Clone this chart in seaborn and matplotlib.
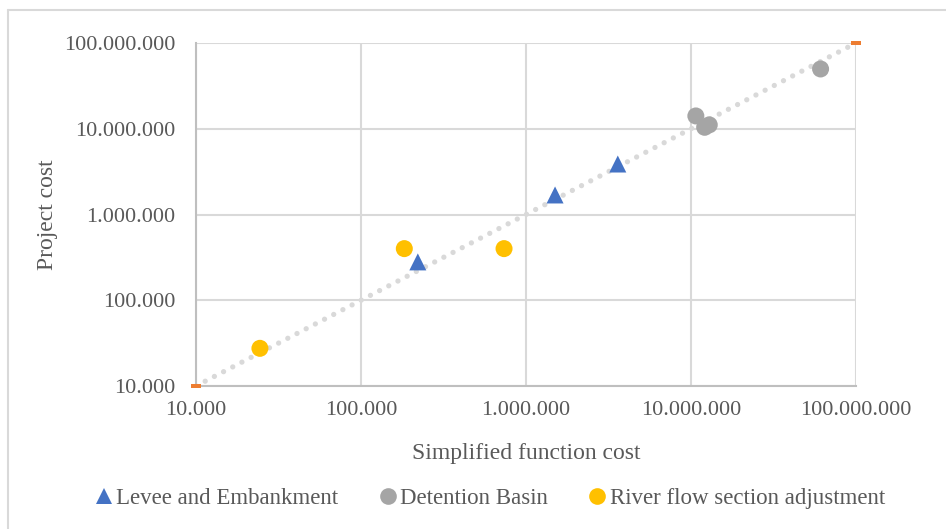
import numpy as np
import pandas as pd
import matplotlib
matplotlib.use("Agg")
import matplotlib.pyplot as plt
import seaborn as sns
from matplotlib.path import Path
from matplotlib.lines import Line2D

# Cost comparison per project type
levee_x = [221000, 1500000, 3600000]
levee_y = [280000, 1690000, 3880000]

basin_x = [10700000, 12100000, 12900000, 61000000]
basin_y = [14100000, 10400000, 11100000, 49800000]

river_x = [24400, 183000, 736000]
river_y = [27500, 400000, 400000]

categories = ["Levee and Embankment", "Detention Basin", "River flow section adjustment"]
colors = ["#4472C4", "#A5A5A5", "#FFC000"]
markers = ["^", "o", "o"]

# Reference line y = x across the full axis range
ref_x = [10000, 100000000]
ref_y = [10000, 100000000]

tick_values = [10000, 100000, 1000000, 10000000, 100000000]

df = pd.concat([
    pd.DataFrame({"x": levee_x, "y": levee_y, "type": categories[0]}),
    pd.DataFrame({"x": basin_x, "y": basin_y, "type": categories[1]}),
    pd.DataFrame({"x": river_x, "y": river_y, "type": categories[2]}),
], ignore_index=True)

sns.set_style("white")
plt.rcParams["font.family"] = ["Liberation Serif", "DejaVu Serif"]
text_color = "#595959"
grid_color = "#D9D9D9"

fig = plt.figure(figsize=(9.46, 5.29), dpi=100)
ax = fig.add_axes([196 / 946, 1 - 386 / 529, 660 / 946, 343 / 529])
ax.set_xscale("log")
ax.set_yscale("log")
ax.set_xlim(ref_x)
ax.set_ylim(ref_y)

ax.set_xticks(tick_values)
ax.set_yticks(tick_values)
ax.minorticks_off()
fmt = lambda v: f"{int(v):,}".replace(",", ".")
ax.set_xticklabels([fmt(v) for v in tick_values])
ax.set_yticklabels([fmt(v) for v in tick_values])
ax.tick_params(axis="both", length=0, labelsize=16, labelcolor=text_color)
ax.tick_params(axis="y", pad=15)
ax.tick_params(axis="x", pad=11)

ax.grid(True, color=grid_color, linewidth=1.5)
ax.set_axisbelow(True)
for side in ["top", "right"]:
    ax.spines[side].set_visible(False)
for side in ["left", "bottom"]:
    ax.spines[side].set_color("#BFBFBF")
    ax.spines[side].set_linewidth(1.5)

# Dotted y = x line
ax.plot(ref_x, ref_y, color=grid_color, linewidth=3.8,
        linestyle=(0, (0.01, 1.95)), dash_capstyle="round", zorder=2)

# Small orange end caps of the reference series
cap = Path([(-1, -0.5), (1, -0.5), (1, 0.5), (-1, 0.5), (-1, -0.5)],
           [Path.MOVETO, Path.LINETO, Path.LINETO, Path.LINETO, Path.CLOSEPOLY])
ax.plot(ref_x, ref_y, linestyle="none", marker=cap, markersize=7,
        color="#ED7D31", markeredgewidth=0, clip_on=False, zorder=4)

sns.scatterplot(data=df, x="x", y="y", hue="type", style="type",
                hue_order=categories, style_order=categories,
                palette=colors, markers=dict(zip(categories, markers)),
                s=150, linewidth=0, ax=ax, legend=False, zorder=3)

ax.set_xlabel("Simplified function cost", fontsize=17, color=text_color, labelpad=16)
ax.set_ylabel("Project cost", fontsize=17, color=text_color, labelpad=4)

handles = [Line2D([], [], linestyle="none", marker=m, color=c, markersize=12,
                  markeredgewidth=0) for m, c in zip(markers, colors)]
fig.legend(handles, categories, loc="center", bbox_to_anchor=(0.519, 0.058),
           ncol=3, frameon=False, fontsize=16.5, labelcolor=text_color,
           handlelength=0.6, handletextpad=0.25, columnspacing=1.85)

# Chart frame along the top and left edges
fig.add_artist(Line2D([8 / 946, 8 / 946], [0, 1 - 9.5 / 529],
                      transform=fig.transFigure, color=grid_color, linewidth=1.5))
fig.add_artist(Line2D([8 / 946, 1], [1 - 9.5 / 529, 1 - 9.5 / 529],
                      transform=fig.transFigure, color=grid_color, linewidth=1.5))

fig.savefig("out.png", dpi=100)
